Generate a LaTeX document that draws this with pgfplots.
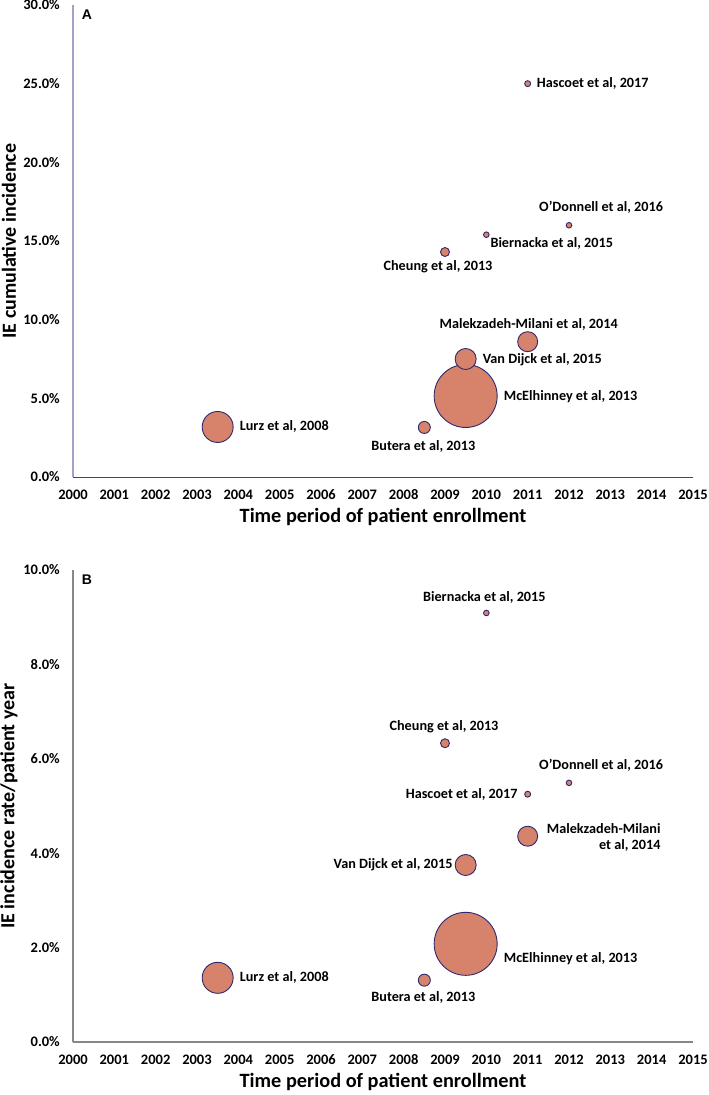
\documentclass[border=0pt]{standalone}
\usepackage{pgfplots}
\pgfplotsset{compat=1.18}
\usepackage{fontspec}
\setmainfont{Carlito}
\newfontfamily\arialf{Liberation Sans}
\definecolor{bub}{RGB}{215,131,108}
\definecolor{edge}{RGB}{46,40,110}
\definecolor{xlA}{RGB}{60,60,160}
\definecolor{ylA}{RGB}{160,160,200}
\definecolor{gl}{RGB}{135,135,135}

\pgfplotstableread{
x y r
2009.5 5.15 31.5
2003.5 3.18 15.5
2009.5 7.5 10.5
2011 8.6 10
2008.5 3.15 6
2009 14.3 4.5
2010 15.4 2.8
2012 16.0 2.8
2011 25.0 3
}\dataA

\pgfplotstableread{
x y r
2009.5 2.08 31.5
2003.5 1.36 15.5
2009.5 3.75 10.5
2011 4.36 10
2008.5 1.31 6
2009 6.33 4.5
2010 9.09 2.8
2012 5.49 2.8
2011 5.25 3
}\dataB

\tikzset{
  lab/.style={font=\fontsize{14.2}{16}\selectfont\bfseries, inner sep=0pt},
  plab/.style={font=\arialf\bfseries\fontsize{14}{16}\selectfont, inner sep=0pt},
}

\pgfplotsset{
  common/.style={
    scale only axis, width=620pt, height=472pt,
    xmin=2000, xmax=2015, ymin=0,
    xtick={2000,2001,...,2015},
    axis x line*=bottom, axis y line*=left,
    axis line style={-},
    major tick length=0pt,
    clip=false,
    /pgf/number format/assume math mode=true,
    xticklabel style={font=\fontsize{14.5}{16}\selectfont\bfseries, anchor=center, yshift=-18pt, /pgf/number format/1000 sep={}},
    yticklabel style={font=\fontsize{14.5}{16}\selectfont\bfseries, anchor=east, inner sep=0pt, xshift=-13pt},
    yticklabel={\pgfmathprintnumber[fixed,fixed zerofill,precision=1]{\tick}\%},
    xlabel={Time period of patient enrollment},
    xlabel style={font=\fontsize{20.3}{22}\selectfont\bfseries, at={(axis description cs:0.5,0)}, anchor=center, yshift=-40pt},
    ylabel style={font=\fontsize{20}{22}\selectfont\bfseries, at={(axis description cs:-0.1032,0.5)}, anchor=center},
  },
  bubbles/.style={
    scatter, only marks, mark=*,
    scatter/use mapped color={draw=edge, fill=bub},
    visualization depends on={\thisrow{r}\as\rad},
    scatter/@pre marker code/.append style={/tikz/mark size=\rad},
    mark options={line width=0.9pt},
  },
}

\begin{document}
\begin{tikzpicture}
\begin{axis}[common, ymax=30, ytick={0,5,...,30},
  ylabel={IE cumulative incidence},
  x axis line style={color=xlA, line width=0.8pt},
  y axis line style={color=ylA, line width=1.2pt},
]
\addplot[bubbles] table[x=x,y=y] {\dataA};
\node[lab, anchor=west, xshift=9pt] at (axis cs:2011,25.0) {Hascoet et al, 2017};
\node[lab, anchor=center, xshift=32pt, yshift=18pt] at (axis cs:2012,16.0) {O’Donnell et al, 2016};
\node[lab, anchor=west, xshift=4pt, yshift=-9pt] at (axis cs:2010,15.4) {Biernacka et al, 2015};
\node[lab, anchor=center, xshift=-7pt, yshift=-15pt] at (axis cs:2009,14.3) {Cheung et al, 2013};
\node[lab, anchor=center, xshift=1pt, yshift=17pt] at (axis cs:2011,8.6) {Malekzadeh-Milani et al, 2014};
\node[lab, anchor=west, xshift=17pt, yshift=-1pt] at (axis cs:2009.5,7.5) {Van Dijck et al, 2015};
\node[lab, anchor=west, xshift=38pt, yshift=-1pt] at (axis cs:2009.5,5.15) {McElhinney et al, 2013};
\node[lab, anchor=center, xshift=-1pt, yshift=-19pt] at (axis cs:2008.5,3.15) {Butera et al, 2013};
\node[lab, anchor=west, xshift=22pt] at (axis cs:2003.5,3.18) {Lurz et al, 2008};
\node[plab, xshift=14pt, yshift=-10pt] at (rel axis cs:0,1) {A};
\end{axis}

\begin{axis}[common, at={(0pt,-565pt)}, anchor=south west,
  ymax=10, ytick={0,2,...,10},
  ylabel={IE incidence rate/patient year},
  axis line style={color=gl, line width=1.2pt},
]
\addplot[bubbles] table[x=x,y=y] {\dataB};
\node[lab, anchor=center, xshift=-2pt, yshift=15pt] at (axis cs:2010,9.09) {Biernacka et al, 2015};
\node[lab, anchor=center, xshift=-1pt, yshift=17pt] at (axis cs:2009,6.33) {Cheung et al, 2013};
\node[lab, anchor=center, xshift=32pt, yshift=18pt] at (axis cs:2012,5.49) {O’Donnell et al, 2016};
\node[lab, anchor=east, xshift=-10pt] at (axis cs:2011,5.25) {Hascoet et al, 2017};
\node[lab, anchor=west, xshift=19pt, yshift=-1pt, align=right] at (axis cs:2011,4.36) {Malekzadeh-Milani\\et al, 2014};
\node[lab, anchor=east, xshift=-13pt] at (axis cs:2009.5,3.75) {Van Dijck et al, 2015};
\node[lab, anchor=west, xshift=38pt, yshift=-15pt] at (axis cs:2009.5,2.08) {McElhinney et al, 2013};
\node[lab, anchor=center, xshift=-1pt, yshift=-17pt] at (axis cs:2008.5,1.31) {Butera et al, 2013};
\node[lab, anchor=west, xshift=22pt] at (axis cs:2003.5,1.36) {Lurz et al, 2008};
\node[plab, xshift=14pt, yshift=-10pt] at (rel axis cs:0,1) {B};
\end{axis}
\pgfresetboundingbox
\path[use as bounding box] (-73pt,-618pt) rectangle (636pt,477pt);
\end{tikzpicture}
\end{document}
